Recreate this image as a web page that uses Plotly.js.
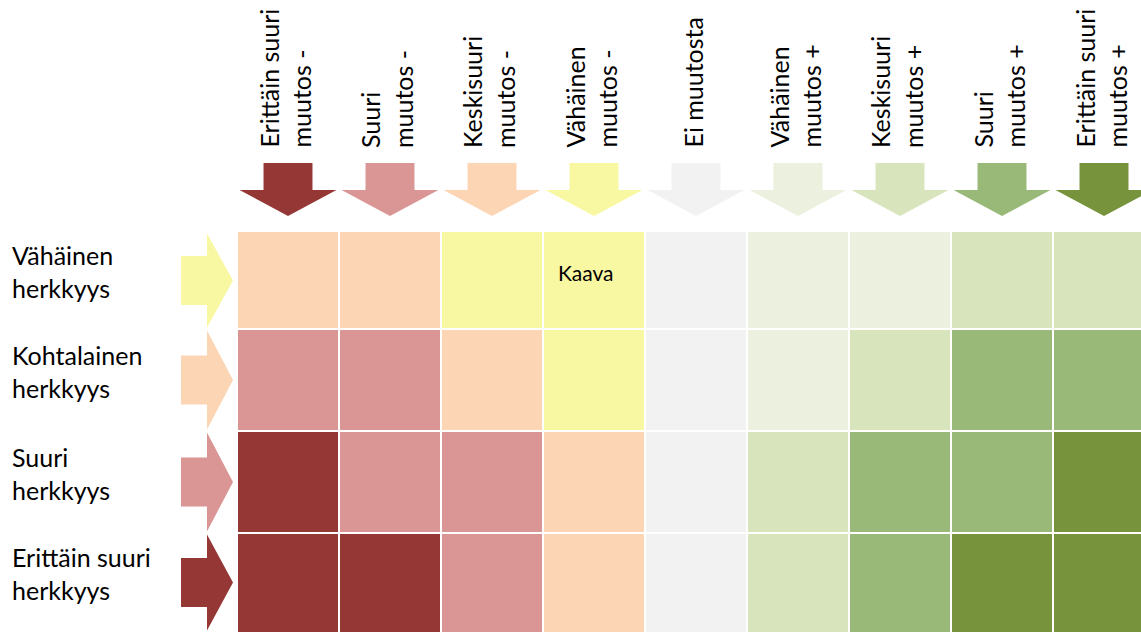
<!DOCTYPE html>
<html>
<head>
<meta charset="utf-8">
<script src="https://cdn.plot.ly/plotly-3.0.1.min.js"></script>
<style>
html,body{margin:0;padding:0;background:#fff;}
#chart{width:1141px;height:632px;}
</style>
</head>
<body>
<div id="chart"></div>
<script>
// ---- data ----
const columnLabels = [
  "Erittäin suuri<br>muutos -", "Suuri<br>muutos -", "Keskisuuri<br>muutos -",
  "Vähäinen<br>muutos -", "Ei muutosta", "Vähäinen<br>muutos +",
  "Keskisuuri<br>muutos +", "Suuri<br>muutos +", "Erittäin suuri<br>muutos +"
];
const rowLabels = [
  "Vähäinen<br>herkkyys", "Kohtalainen<br>herkkyys",
  "Suuri<br>herkkyys", "Erittäin suuri<br>herkkyys"
];
// impact level of each cell (0 = very large negative ... 8 = very large positive)
const cellLevels = [
  [2, 2, 3, 3, 4, 5, 5, 6, 6],
  [1, 1, 2, 3, 4, 5, 6, 7, 7],
  [0, 1, 1, 2, 4, 6, 7, 7, 8],
  [0, 0, 1, 2, 4, 6, 7, 8, 8]
];
const columnLevels = [0, 1, 2, 3, 4, 5, 6, 7, 8];
const rowLevels = [3, 2, 1, 0];
const levelColors = [
  "#953735", "#DA9694", "#FCD5B4", "#F8F8A2", "#F2F2F2",
  "#EBF1DE", "#D8E4BC", "#98B978", "#77933C"
];
const cellNotes = [{ row: 0, col: 3, text: "Kaava" }];

// ---- layout constants ----
const W = 1141, H = 632;
const plotLeft = 237, plotTop = 232;
const cellPx = 102;
const plotW = W - plotLeft, plotH = H - plotTop;
const xRange = [-0.5, -0.5 + plotW / cellPx];
const yTop = -0.5 + 5 / cellPx;
const yRange = [yTop + plotH / cellPx, yTop];
const FONT = "Lato, 'Open Sans', sans-serif";

const nLev = levelColors.length;
const colorscale = [];
levelColors.forEach((c, i) => {
  colorscale.push([i / nLev, c]);
  colorscale.push([(i + 1) / nLev, c]);
});

const xIdx = columnLabels.map((_, i) => i);
const yIdx = rowLabels.map((_, i) => i);

const trace = {
  type: "heatmap",
  x: xIdx, y: yIdx, z: cellLevels,
  zmin: -0.5, zmax: nLev - 0.5,
  colorscale: colorscale,
  showscale: false,
  xgap: 2, ygap: 2,
  hoverinfo: "none"
};

const px2py = py => (H - py) / plotH;         // pixel y -> paper y
const px2pxp = px => (px - plotLeft) / plotW; // pixel x -> paper x

const shapes = [];
// column arrows (pointing down)
const aTop = px2py(163), aMid = px2py(190), aTip = px2py(216);
const headHalf = 0.475, shaftHalf = 0.24;
columnLevels.forEach((lev, i) => {
  const path = `M ${i - shaftHalf} ${aTop} L ${i + shaftHalf} ${aTop} L ${i + shaftHalf} ${aMid} ` +
    `L ${i + headHalf} ${aMid} L ${i} ${aTip} L ${i - headHalf} ${aMid} L ${i - shaftHalf} ${aMid} Z`;
  shapes.push({ type: "path", xref: "x", yref: "paper", path: path,
    fillcolor: levelColors[lev], line: { width: 0 }, layer: "above" });
});
// row arrows (pointing right)
const rL = px2pxp(181), rMid = px2pxp(207), rTip = px2pxp(233);
const inset = 0.015;
const rowBands = [];
rowLevels.forEach((lev, j) => {
  const top = Math.max(j - 0.5, yRange[1]) + inset;
  const bot = Math.min(j + 0.5, yRange[0]) - inset;
  const c = (top + bot) / 2;
  rowBands.push(c);
  const path = `M ${rL} ${c - shaftHalf} L ${rMid} ${c - shaftHalf} L ${rMid} ${top} L ${rTip} ${c} ` +
    `L ${rMid} ${bot} L ${rMid} ${c + shaftHalf} L ${rL} ${c + shaftHalf} Z`;
  shapes.push({ type: "path", xref: "paper", yref: "y", path: path,
    fillcolor: levelColors[lev], line: { width: 0 }, layer: "above" });
});

const annotations = [];
columnLabels.forEach((t, i) => {
  annotations.push({
    text: t, x: i, xref: "x", y: px2py(150), yref: "paper",
    xanchor: "center", yanchor: "bottom", textangle: -90, align: "left",
    xshift: -3,
    showarrow: false, font: { family: FONT, size: 25, color: "#000" }
  });
});
rowLabels.forEach((t, j) => {
  annotations.push({
    text: t, x: px2pxp(10), xref: "paper", y: rowBands[j], yref: "y",
    xanchor: "left", yanchor: "middle", align: "left", yshift: 9,
    showarrow: false, font: { family: FONT, size: 25, color: "#000" }
  });
});
cellNotes.forEach(n => {
  annotations.push({
    text: n.text, x: n.col, xref: "x", y: rowBands[n.row], yref: "y",
    xanchor: "center", yanchor: "middle", xshift: -8, yshift: 8,
    showarrow: false, font: { family: FONT, size: 21, color: "#000" }
  });
});

const layout = {
  width: W, height: H,
  margin: { l: plotLeft, r: 0, t: plotTop, b: 0, pad: 0 },
  paper_bgcolor: "#fff", plot_bgcolor: "#fff",
  xaxis: { range: xRange, visible: false, fixedrange: true },
  yaxis: { range: yRange, visible: false, fixedrange: true },
  shapes: shapes,
  annotations: annotations,
  showlegend: false
};

Plotly.newPlot("chart", [trace], layout, { staticPlot: true, displayModeBar: false });
</script>
</body>
</html>
